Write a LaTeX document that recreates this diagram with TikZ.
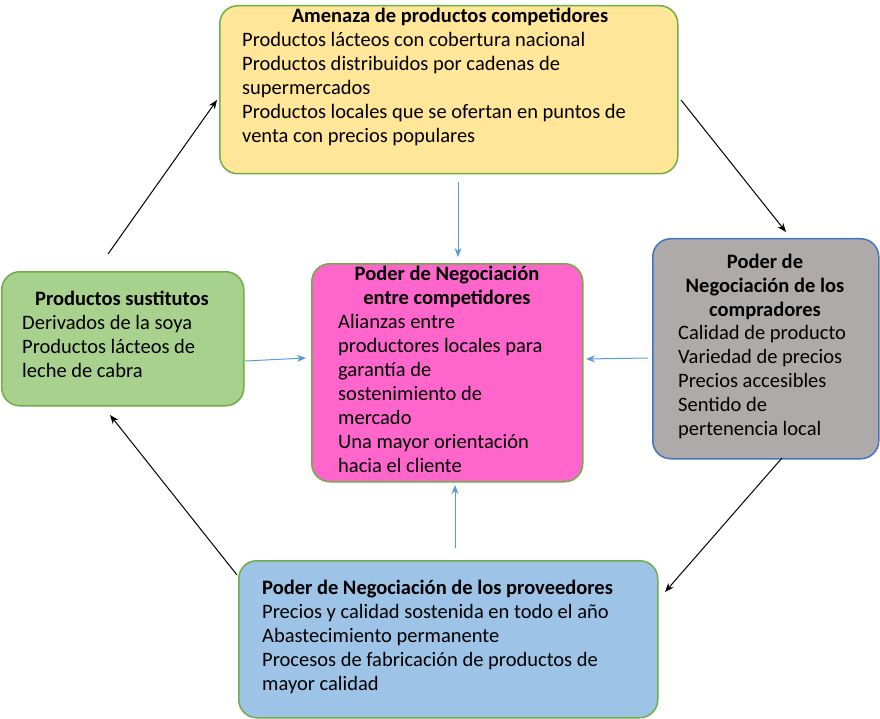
\documentclass[tikz,border=0pt]{standalone}
\usepackage{fontspec}
\setmainfont{Carlito}
\usetikzlibrary{positioning,arrows.meta}
\definecolor{boxyellow}{HTML}{FFE699}
\definecolor{boxgreen}{HTML}{A9D18E}
\definecolor{boxpink}{HTML}{FF66CC}
\definecolor{boxgray}{HTML}{AEAAAA}
\definecolor{boxblue}{HTML}{9DC3E6}
\definecolor{lineg}{HTML}{70AD47}
\definecolor{lineb}{HTML}{4472C4}
\definecolor{arrb}{HTML}{5B9BD5}
\tikzset{
  forcebox/.style={draw=lineg, line width=1.5pt, rounded corners=18pt, anchor=north west,
    inner sep=0pt},
  boxtext/.style={anchor=north west, inner sep=0pt, align=left,
    font=\fontsize{20.5}{24}\selectfont},
  boxtitle/.style={boxtext, font=\fontsize{20.5}{24}\selectfont\bfseries},
  cyclearrow/.style={-{Stealth[length=9pt,width=7pt]}, black, line width=1pt},
  innerarrow/.style={-{Stealth[length=9pt,width=7pt]}, arrb, line width=1pt}
}
\begin{document}
\begin{tikzpicture}[x=1pt, y=-1pt]
\useasboundingbox (0,0) rectangle (880,719);
% boxes
\node[forcebox, fill=boxyellow, minimum width=458pt, minimum height=168pt] (amenaza) at (219,5) {};
\node[forcebox, fill=boxgreen, minimum width=242pt, minimum height=134pt] (sustitutos) at (1,271) {};
\node[forcebox, fill=boxpink, minimum width=271pt, minimum height=218pt] (competidores) at (311,263) {};
\node[forcebox, draw=lineb, fill=boxgray, minimum width=226pt, minimum height=220pt] (compradores) at (652,238) {};
\node[forcebox, fill=boxblue, minimum width=419pt, minimum height=157pt] (proveedores) at (238,560) {};
% texts
\node[boxtitle, align=center, anchor=north] (amenazaT) at (450,8) {Amenaza de productos competidores};
\node[boxtext] (amenazaB) at (242,32) {Productos lácteos con cobertura nacional\\Productos distribuidos por cadenas de\\supermercados\\Productos locales que se ofertan en puntos de\\venta con precios populares};
\node[boxtitle, align=center, anchor=north] (sustitutosT) at (122,291) {Productos sustitutos};
\node[boxtext] (sustitutosB) at (22,315) {Derivados de la soya\\Productos lácteos de\\leche de cabra};
\node[boxtitle, align=center, anchor=north] (competidoresT) at (447,266) {Poder de Negociación\\entre competidores};
\node[boxtext] (competidoresB) at (338,314) {Alianzas entre\\productores locales para\\garantía de\\sostenimiento de\\mercado\\Una mayor orientación\\hacia el cliente};
\node[boxtitle, align=center, anchor=north] (compradoresT) at (765,254) {Poder de\\Negociación de los\\compradores};
\node[boxtext] (compradoresB) at (678,325) {Calidad de producto\\Variedad de precios\\Precios accesibles\\Sentido de\\pertenencia local};
\node[boxtitle] (proveedoresT) at (262,580) {Poder de Negociación de los proveedores};
\node[boxtext] (proveedoresB) at (262,604) {Precios y calidad sostenida en todo el año\\Abastecimiento permanente\\Procesos de fabricación de productos de\\mayor calidad};
% arrow ends
\coordinate (c1) at (108,254); \coordinate (c2) at (217,100);
\coordinate (c3) at (681,100); \coordinate (c4) at (786,232);
\coordinate (c5) at (782,458); \coordinate (c6) at (665,592);
\coordinate (c7) at (237,575); \coordinate (c8) at (110,415);
\coordinate (b1) at (458,182); \coordinate (b2) at (458,257);
\coordinate (b3) at (245,361); \coordinate (b4) at (306,358);
\coordinate (b5) at (648,358); \coordinate (b6) at (586,359);
\coordinate (b7) at (455,548); \coordinate (b8) at (455,485);
\draw[cyclearrow] (c1) -- (c2);
\draw[cyclearrow] (c3) -- (c4);
\draw[cyclearrow] (c5) -- (c6);
\draw[cyclearrow] (c7) -- (c8);
\draw[innerarrow] (b1) -- (b2);
\draw[innerarrow] (b3) -- (b4);
\draw[innerarrow] (b5) -- (b6);
\draw[innerarrow] (b7) -- (b8);
\end{tikzpicture}
\end{document}
